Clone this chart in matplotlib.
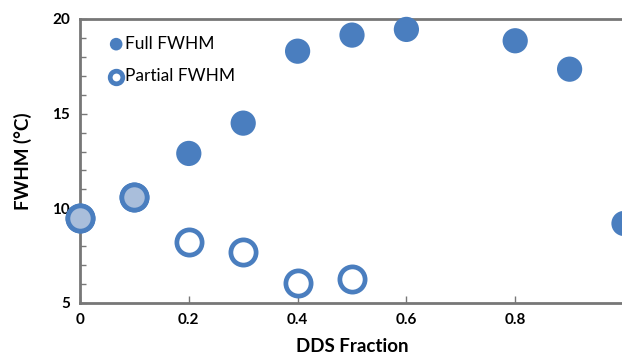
import matplotlib
matplotlib.use("Agg")
import matplotlib.pyplot as plt
from matplotlib.ticker import MultipleLocator

plt.rcParams["font.family"] = ["Lato", "DejaVu Sans"]

BLUE = "#4a7ebf"
LIGHT = "#a9bedb"

full_x = [0.2, 0.3, 0.4, 0.5, 0.6, 0.8, 0.9, 1.0]
full_y = [12.9, 14.5, 18.3, 19.15, 19.45, 18.85, 17.35, 9.2]
part_x = [0.0, 0.1, 0.2, 0.3, 0.4, 0.5]
part_y = [9.5, 10.6, 8.2, 7.7, 6.05, 6.25]
# points where both widths coincide
both_x = [0.0, 0.1]
both_y = [9.5, 10.6]
xticks = [0, 0.2, 0.4, 0.6, 0.8, 1.0]
xlabels = ["0", "0.2", "0.4", "0.6", "0.8", "1"]
yticks = [5, 10, 15, 20]

fig = plt.figure(figsize=(6.22, 3.58), dpi=100)
ax = fig.add_axes([80 / 622, 1 - 303 / 358, 544 / 622, 284 / 358])

ax.scatter(full_x, full_y, s=330, color=BLUE, edgecolors="none",
           label="Full FWHM", zorder=3, clip_on=False)
ax.scatter(part_x, part_y, s=330, facecolors="white", edgecolors=BLUE,
           linewidths=3.4, label="Partial FWHM", zorder=3, clip_on=False)
ax.scatter(both_x, both_y, s=330, facecolors=LIGHT, edgecolors=BLUE,
           linewidths=3.4, zorder=4, clip_on=False)

ax.set_xlim(0, 1)
ax.set_ylim(5, 20)
ax.set_xticks(xticks, xlabels, fontweight="bold")
ax.set_yticks(yticks, [str(v) for v in yticks], fontweight="bold")
ax.yaxis.set_minor_locator(MultipleLocator(1))
ax.tick_params(axis="both", which="both", direction="in", color="#777777",
               labelsize=11, pad=7)
ax.tick_params(which="major", length=5, width=1)
ax.tick_params(which="minor", length=4, width=1)
for side in ("left", "bottom", "top"):
    ax.spines[side].set_color("#777777")
    ax.spines[side].set_linewidth(2)
ax.spines["right"].set_visible(False)

ax.set_xlabel("DDS Fraction", fontsize=13.5, fontweight="bold", labelpad=8)
ax.set_ylabel("FWHM (°C)", fontsize=13.5, fontweight="bold", labelpad=15)

leg = ax.legend(loc="upper left", bbox_to_anchor=(0.025, 0.99), frameon=False,
                fontsize=12.5, markerscale=0.5, handletextpad=0.0,
                labelspacing=0.95, borderpad=0.3, handlelength=1.0)

fig.savefig("out.png", dpi=100, facecolor="white")
